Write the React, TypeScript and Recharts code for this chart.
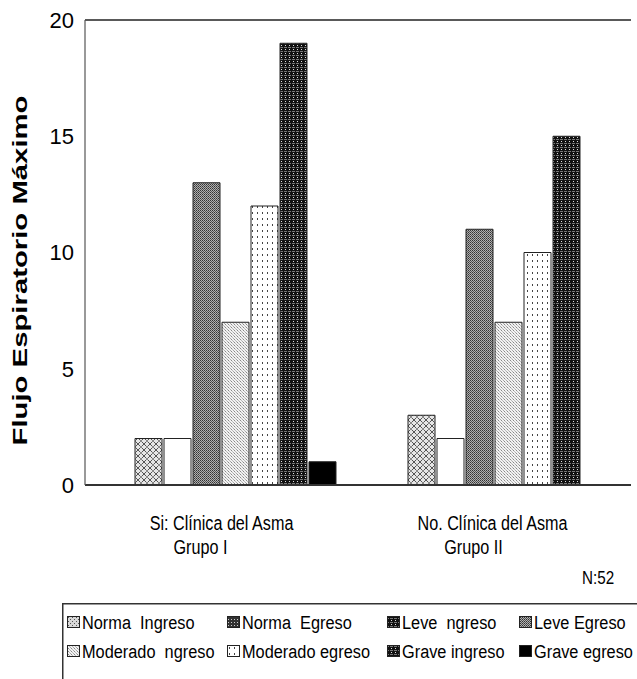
import React from "react";
import { BarChart, Bar, XAxis, YAxis, CartesianGrid, Legend, Label } from "recharts";

const categoryLine1 = ["Si: Clínica del Asma", "No. Clínica del Asma"];
const categoryLine2 = ["Grupo I", "Grupo II"];
const yTicks = [0, 5, 10, 15, 20];

const normaIngreso = [0, 0];
const normaEgreso = [2, 3];
const leveIngreso = [2, 2];
const leveEgreso = [13, 11];
const moderadoIngreso = [7, 7];
const moderadoEgreso = [12, 10];
const graveIngreso = [19, 15];
const graveEgreso = [1, 0];

const seriesNames = [
  "Norma  Ingreso",
  "Norma  Egreso",
  "Leve  ngreso",
  "Leve Egreso",
  "Moderado  ngreso",
  "Moderado egreso",
  "Grave ingreso",
  "Grave egreso",
];
const seriesValues = [
  normaIngreso,
  normaEgreso,
  leveIngreso,
  leveEgreso,
  moderadoIngreso,
  moderadoEgreso,
  graveIngreso,
  graveEgreso,
];
const seriesKeys = ["s0", "s1", "s2", "s3", "s4", "s5", "s6", "s7"];
const seriesFills = [
  "url(#pSoft)",
  "url(#pCross)",
  "#ffffff",
  "url(#pGray)",
  "url(#pLight)",
  "url(#pDots)",
  "url(#pDark)",
  "#000000",
];
const legendFills = [
  "url(#pSoft)",
  "url(#pDark2)",
  "url(#pDark)",
  "url(#pGray)",
  "url(#pLight)",
  "url(#pDots)",
  "url(#pDark)",
  "#000000",
];

const data = categoryLine1.map((c, i) => {
  const row: any = { name: c };
  seriesKeys.forEach((k, j) => {
    row[k] = seriesValues[j][i];
  });
  return row;
});

const sans = "'Liberation Sans', Arial, sans-serif";

const Patterns = () => (
  <svg width={0} height={0} style={{ position: "absolute" }}>
    <defs>
      <pattern id="pSoft" width="4" height="4" patternUnits="userSpaceOnUse">
        <rect width="4" height="4" fill="#d8d8d8" />
        <rect x="0" y="0" width="1" height="1" fill="#555" />
        <rect x="2" y="2" width="1" height="1" fill="#555" />
      </pattern>
      <pattern id="pCross" width="6" height="6" patternUnits="userSpaceOnUse">
        <rect width="6" height="6" fill="#e6e6e6" />
        <path d="M0 0 L3 3 L6 0 M0 6 L3 3 L6 6" stroke="#555" strokeWidth="1" fill="none" />
        <rect x="2" y="2" width="2" height="2" fill="#888" />
      </pattern>
      <pattern id="pGray" width="2" height="2" patternUnits="userSpaceOnUse">
        <rect width="2" height="2" fill="#b0b0b0" />
        <rect x="0" y="0" width="1" height="1" fill="#333" />
        <rect x="1" y="1" width="1" height="1" fill="#555" />
      </pattern>
      <pattern id="pLight" width="3" height="3" patternUnits="userSpaceOnUse">
        <rect width="3" height="3" fill="#f2f2f2" />
        <rect x="0" y="0" width="1" height="1" fill="#888" />
        <rect x="1" y="1" width="1" height="1" fill="#bbb" />
        <rect x="2" y="2" width="1" height="1" fill="#aaa" />
      </pattern>
      <pattern id="pDots" width="5" height="6" patternUnits="userSpaceOnUse">
        <rect width="5" height="6" fill="#ffffff" />
        <rect x="2" y="2" width="1" height="2" fill="#444" />
      </pattern>
      <pattern id="pDark" width="4" height="4" patternUnits="userSpaceOnUse">
        <rect width="4" height="4" fill="#111" />
        <rect x="1" y="1" width="1" height="1" fill="#ddd" />
        <rect x="0" y="3" width="3" height="1" fill="#777" />
      </pattern>
      <pattern id="pDark2" width="3" height="3" patternUnits="userSpaceOnUse">
        <rect width="3" height="3" fill="#333" />
        <rect x="1" y="1" width="1" height="1" fill="#ccc" />
      </pattern>
    </defs>
  </svg>
);

const Narrow = ({ x, y, size, anchor, sx, children }: any) => (
  <text
    transform={`translate(${x}, ${y}) scale(${sx || 0.86}, 1)`}
    textAnchor={anchor || "start"}
    fontFamily={sans}
    fontSize={size}
    fill="#000"
    style={{ whiteSpace: "pre" }}
    xmlSpace="preserve"
  >
    {children}
  </text>
);

const CatTick = (props: any) => {
  const { x, y, index } = props;
  return (
    <g>
      <Narrow x={x - 2 * index} y={y + 43} size={21} sx={0.77} anchor="middle">
        {categoryLine1[index]}
      </Narrow>
      <Narrow x={x - 21} y={y + 67} size={21} sx={0.77} anchor="middle">
        {categoryLine2[index]}
      </Narrow>
    </g>
  );
};

const YTitle = (props: any) => {
  const { viewBox } = props;
  const cy = viewBox.y + viewBox.height / 2 + 18;
  const cx = 19;
  return (
    <text
      x={cx}
      y={cy}
      transform={`rotate(-90, ${cx}, ${cy})`}
      textAnchor="middle"
      dominantBaseline="central"
      fontFamily={sans}
      fontWeight="bold"
      fontSize={21}
      textLength={350}
      lengthAdjust="spacingAndGlyphs"
      fill="#000"
    >
      Flujo Espiratorio Máximo
    </text>
  );
};

const legendCols = [5, 165, 325, 457];
const legendRows = [26, 55];

const LegendBox = () => (
  <svg width={575} height={76} style={{ display: "block", overflow: "visible" }}>
    <rect x={0.75} y={0.75} width={600} height={100} fill="#fff" stroke="#333" strokeWidth={1.5} />
    {seriesNames.map((n, i) => {
      const cx = legendCols[i % 4];
      const cy = legendRows[Math.floor(i / 4)];
      return (
        <g key={n}>
          <rect
            x={cx + 0.5}
            y={cy - 12.5}
            width={12}
            height={11}
            fill={legendFills[i]}
            stroke="#222"
            strokeWidth={1}
          />
          <Narrow x={cx + 15} y={cy} size={19} sx={0.86}>
            {n}
          </Narrow>
        </g>
      );
    })}
  </svg>
);

export default function App() {
  return (
    <div style={{ position: "absolute", left: 0, top: 0, width: 637, height: 679, background: "#fff" }}>
      <Patterns />
      <BarChart
        width={637}
        height={679}
        data={data}
        margin={{ top: 20, right: 6, left: 0, bottom: 68 }}
        barCategoryGap={21}
        barGap={2}
      >
        <CartesianGrid horizontal={true} vertical={false} stroke="#222" strokeWidth={1.3} />
        <XAxis
          dataKey="name"
          tick={<CatTick />}
          tickLine={false}
          tickSize={0}
          height={50}
          axisLine={{ stroke: "#333", strokeWidth: 2 }}
          interval={0}
        />
        <YAxis
          yAxisId="left"
          domain={[0, 20]}
          ticks={yTicks}
          width={85}
          tickLine={false}
          tickSize={0}
          tickMargin={11}
          axisLine={{ stroke: "#555", strokeWidth: 1.2 }}
          tick={{ fontFamily: sans, fontSize: 22, fill: "#000" }}
        >
          <Label content={<YTitle />} />
        </YAxis>
        <YAxis
          yAxisId="right"
          orientation="right"
          domain={[0, 20]}
          width={0}
          tick={false}
          tickLine={false}
          axisLine={{ stroke: "#555", strokeWidth: 1.2 }}
        />
        <Legend
          verticalAlign="bottom"
          content={<LegendBox />}
          wrapperStyle={{ left: 62, top: 603, bottom: "auto", width: 575, height: 76, overflow: "hidden" }}
        />
        {seriesKeys.map((k, i) => (
          <Bar
            key={k}
            yAxisId="left"
            dataKey={k}
            name={seriesNames[i]}
            fill={seriesFills[i]}
            stroke="#222"
            strokeWidth={1}
            isAnimationActive={false}
          />
        ))}
      </BarChart>
      <svg
        width={60}
        height={26}
        style={{ position: "absolute", left: 580, top: 564 }}
      >
        <Narrow x={2} y={20} size={19} sx={0.8}>
          N:52
        </Narrow>
      </svg>
    </div>
  );
}
